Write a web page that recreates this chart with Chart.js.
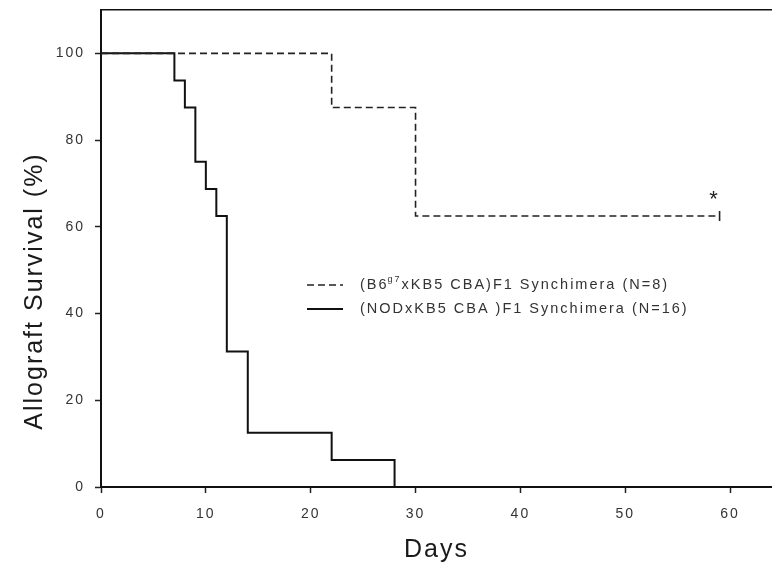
<!DOCTYPE html>
<html>
<head>
<meta charset="utf-8">
<title>Allograft survival</title>
<script src="https://cdn.jsdelivr.net/npm/chart.js@4/dist/chart.umd.min.js"></script>
<style>
  html, body { margin: 0; padding: 0; background: #fff; }
  canvas { display: block; }
</style>
</head>
<body>
<canvas id="survivalChart" width="772" height="568"></canvas>
<script>
// Kaplan-Meier curves: days after transplant vs. % grafts surviving
var b6Days = [0, 22, 30, 59];
var b6Survival = [100, 87.5, 62.5, 62.5];

var nodDays = [0, 7, 8, 9, 10, 11, 12, 14, 22, 28];
var nodSurvival = [100, 93.75, 87.5, 75, 68.75, 62.5, 31.25, 12.5, 6.25, 0];

var xTicks = [0, 10, 20, 30, 40, 50, 60];
var yTicks = [0, 20, 40, 60, 80, 100];

var yTitle = 'Allograft Survival (%)';

// legend text; pieces flagged 'sup' are raised and smaller
var b6Label = [['(B6', ''], ['g7', 'sup'], ['xKB5 CBA)F1 Synchimera (N=8)', '']];
var nodLabel = [['(NODxKB5 CBA )F1 Synchimera (N=16)', '']];

var FONT = '"Liberation Sans", Arial, Helvetica, sans-serif';

function toPoints(xs, ys) {
    var pts = [];
    for (var i = 0; i < xs.length; i++) pts.push({x: xs[i], y: ys[i]});
    return pts;
}

// loose letter spacing on all canvas text
var spacingPlugin = {
    id: 'spacing',
    beforeDraw: function(chart) {
        chart.ctx.letterSpacing = '2px';
    }
};

// rotated y title, sitting a bit below the middle of the axis
var yTitlePlugin = {
    id: 'yTitle',
    afterDraw: function(chart) {
        var ctx = chart.ctx;
        ctx.save();
        ctx.letterSpacing = '2px';
        ctx.translate(35, 291);
        ctx.rotate(-Math.PI / 2);
        ctx.font = '25px ' + FONT;
        ctx.fillStyle = '#1a1a1a';
        ctx.textAlign = 'center';
        ctx.textBaseline = 'middle';
        ctx.fillText(yTitle, 0, 0);
        ctx.restore();
    }
};

// asterisk over the censored end of the B6 curve
var asteriskPlugin = {
    id: 'asterisk',
    afterDatasetsDraw: function(chart) {
        var meta = chart.getDatasetMeta(0);
        var last = meta.data[meta.data.length - 1];
        var ctx = chart.ctx;
        ctx.save();
        ctx.letterSpacing = '0px';
        ctx.font = '22px ' + FONT;
        ctx.fillStyle = '#222';
        ctx.textAlign = 'center';
        ctx.textBaseline = 'alphabetic';
        ctx.fillText('*', last.x - 6, last.y - 10);
        ctx.restore();
    }
};

// legend drawn inside the plot area
var legendPlugin = {
    id: 'insideLegend',
    afterDraw: function(chart) {
        var ctx = chart.ctx;
        var rows = [
            {ds: chart.data.datasets[0], parts: b6Label, y: 285},
            {ds: chart.data.datasets[1], parts: nodLabel, y: 309}
        ];
        ctx.save();
        ctx.letterSpacing = '2px';
        rows.forEach(function(row) {
            ctx.beginPath();
            ctx.strokeStyle = row.ds.borderColor;
            ctx.lineWidth = row.ds.borderWidth;
            ctx.setLineDash(row.ds.borderDash || []);
            ctx.moveTo(307, row.y);
            ctx.lineTo(343, row.y);
            ctx.stroke();
            ctx.setLineDash([]);

            var x = 360;
            ctx.fillStyle = '#333';
            ctx.textBaseline = 'middle';
            ctx.textAlign = 'left';
            row.parts.forEach(function(p) {
                if (p[1] === 'sup') {
                    ctx.font = '9px ' + FONT;
                    ctx.fillText(p[0], x - 1, row.y - 5);
                    x += ctx.measureText(p[0]).width - 1;
                } else {
                    ctx.font = '14.5px ' + FONT;
                    ctx.fillText(p[0], x, row.y);
                    x += ctx.measureText(p[0]).width;
                }
            });
        });
        ctx.restore();
    }
};

function noEdgePadding(axis) {
    axis.paddingLeft = 0;
    axis.paddingRight = 0;
    axis.paddingTop = 0;
    axis.paddingBottom = 0;
}

var canvas = document.getElementById('survivalChart');
var chart = new Chart(canvas, {
    type: 'line',
    data: {
        datasets: [{
            label: '(B6g7xKB5 CBA)F1 Synchimera (N=8)',
            data: toPoints(b6Days, b6Survival),
            stepped: true,
            borderColor: '#222',
            borderWidth: 1.6,
            borderDash: [7, 4],
            fill: false,
            pointStyle: 'line',
            pointRotation: 90,
            pointBorderColor: '#222',
            pointBorderWidth: 1.6,
            pointRadius: function(c) {
                return c.dataIndex === b6Days.length - 1 ? 5 : 0;
            },
            pointHoverRadius: 0
        }, {
            label: '(NODxKB5 CBA )F1 Synchimera (N=16)',
            data: toPoints(nodDays, nodSurvival),
            stepped: true,
            borderColor: '#111',
            borderWidth: 2,
            fill: false,
            pointRadius: 0,
            pointHoverRadius: 0
        }]
    },
    options: {
        responsive: false,
        devicePixelRatio: 1,
        animation: false,
        events: [],
        layout: {
            autoPadding: false,
            padding: {top: 10, right: 0, bottom: 0, left: 0}
        },
        plugins: {
            legend: {display: false},
            tooltip: {enabled: false}
        },
        scales: {
            x: {
                type: 'linear',
                position: 'bottom',
                min: 0,
                max: 64,
                afterBuildTicks: function(axis) {
                    axis.ticks = xTicks.map(function(v) { return {value: v}; });
                },
                afterFit: function(axis) {
                    axis.height = 81;
                    noEdgePadding(axis);
                },
                grid: {
                    drawOnChartArea: false,
                    drawTicks: true,
                    tickLength: 6,
                    tickColor: '#222',
                    tickWidth: 1.5
                },
                border: {display: true, color: '#111', width: 2},
                ticks: {
                    color: '#333',
                    padding: 13,
                    maxRotation: 0,
                    font: {family: FONT, size: 14}
                },
                title: {
                    display: true,
                    text: 'Days',
                    color: '#1a1a1a',
                    padding: {top: 0, bottom: 3},
                    font: {family: FONT, size: 25}
                }
            },
            xTop: {
                type: 'linear',
                position: 'top',
                min: 0,
                max: 64,
                afterFit: function(axis) {
                    axis.height = 0;
                    noEdgePadding(axis);
                },
                grid: {display: false},
                ticks: {display: false},
                border: {display: true, color: '#111', width: 1.6}
            },
            y: {
                type: 'linear',
                position: 'left',
                min: 0,
                max: 110,
                afterBuildTicks: function(axis) {
                    axis.ticks = yTicks.map(function(v) { return {value: v}; });
                },
                afterFit: function(axis) {
                    axis.width = 101;
                    noEdgePadding(axis);
                },
                grid: {
                    drawOnChartArea: false,
                    drawTicks: true,
                    tickLength: 6,
                    tickColor: '#222',
                    tickWidth: 1.5
                },
                border: {display: true, color: '#111', width: 2},
                ticks: {
                    color: '#333',
                    padding: 10,
                    font: {family: FONT, size: 14}
                }
            }
        }
    },
    plugins: [spacingPlugin, yTitlePlugin, asteriskPlugin, legendPlugin]
});
</script>
</body>
</html>
